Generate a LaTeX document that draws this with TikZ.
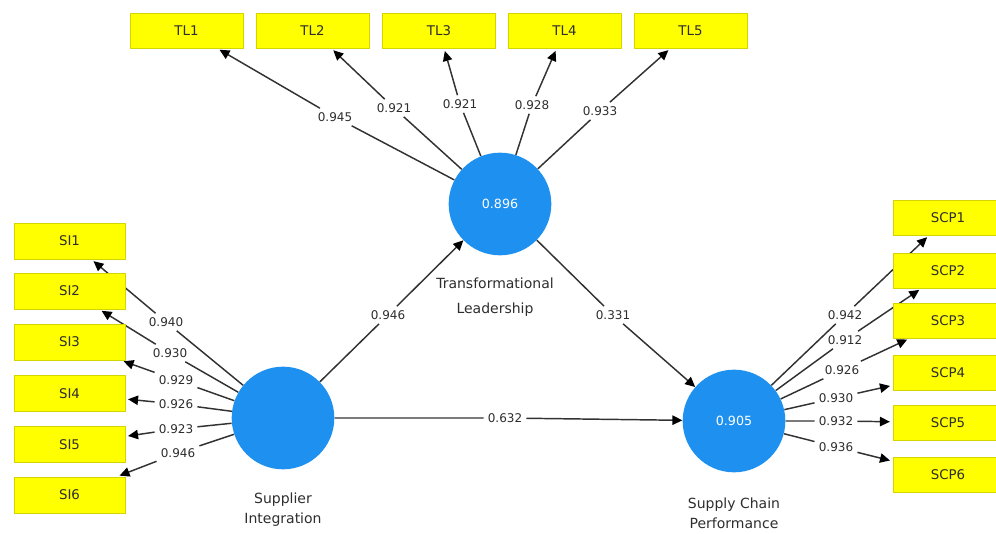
\documentclass[tikz,border=0pt]{standalone}
\usepackage{fontspec}
\setmainfont{DejaVu Sans}
\usetikzlibrary{arrows.meta}
\pgfdeclarelayer{bg}
\pgfsetlayers{bg,main}
\definecolor{boxyellow}{RGB}{255,255,0}
\definecolor{boxedge}{RGB}{212,212,0}
\definecolor{lvblue}{RGB}{30,144,240}
\definecolor{inkgray}{RGB}{45,45,45}
\definecolor{linegray}{RGB}{50,50,50}
\tikzset{
  indbox/.style={draw=boxedge, fill=boxyellow, line width=0.6pt, minimum width=84.75pt,
    minimum height=26.25pt, inner sep=0pt, font=\fontsize{10}{12}\selectfont, text=inkgray},
  sibox/.style={indbox, minimum width=83.25pt, minimum height=27pt},
  scpbox/.style={indbox, minimum width=82.5pt, minimum height=26.25pt},
  latent/.style={circle, fill=lvblue, draw=none, minimum size=77pt, inner sep=0pt,
    text=white, font=\fontsize{9.5}{11}\selectfont},
  coef/.style={inner sep=3pt, font=\fontsize{9}{11}\selectfont, text=inkgray},
  lvname/.style={align=center, text=inkgray},
  loadline/.style={draw=linegray, line width=1.1pt, -{Triangle[length=7.5pt,width=7pt,color=black]}, shorten >=2pt},
  pathline/.style={draw=linegray, line width=1.1pt, -{Triangle[length=7.5pt,width=7pt,color=black]}}
}
\begin{document}
\begin{tikzpicture}[x=0.75pt,y=-0.75pt]
\useasboundingbox (0,0) rectangle (996,534);

% latent variables
\node[latent] (SI) at (283,418) {};
\node[latent] (TL) at (500,204) {0.896};
\node[latent] (SCP) at (734,421) {0.905};

\node[lvname, font=\fontsize{10.5}{15}\selectfont] (SIname) at (283,510) {Supplier\\Integration};
\node[lvname, font=\fontsize{10.5}{18.75}\selectfont] (TLname) at (495,297) {Transformational\\Leadership};
\node[lvname, font=\fontsize{10.5}{15}\selectfont] (SCPname) at (734,513) {Supply Chain\\Performance};

% indicators
\node[indbox] (TL1) at (186.5,30.5) {TL1};
\node[indbox] (TL2) at (312.5,30.5) {TL2};
\node[indbox] (TL3) at (439,30.5) {TL3};
\node[indbox] (TL4) at (564.5,30.5) {TL4};
\node[indbox] (TL5) at (690.5,30.5) {TL5};

\node[sibox] (SI1) at (69.5,241) {SI1};
\node[sibox] (SI2) at (69.5,291) {SI2};
\node[sibox] (SI3) at (69.5,342) {SI3};
\node[sibox] (SI4) at (69.5,393.5) {SI4};
\node[sibox] (SI5) at (69.5,444.5) {SI5};
\node[sibox] (SI6) at (69.5,495) {SI6};

\node[scpbox] (SCP1) at (948,217.5) {SCP1};
\node[scpbox] (SCP2) at (948,270.5) {SCP2};
\node[scpbox] (SCP3) at (948,320.5) {SCP3};
\node[scpbox] (SCP4) at (948,373) {SCP4};
\node[scpbox] (SCP5) at (948,422.5) {SCP5};
\node[scpbox] (SCP6) at (948,475) {SCP6};

% coefficient labels
\node[coef] (kTL1) at (335,117) {0.945};
\node[coef] (kTL2) at (394,108) {0.921};
\node[coef] (kTL3) at (460,104) {0.921};
\node[coef] (kTL4) at (532,105) {0.928};
\node[coef] (kTL5) at (600,111) {0.933};

\node[coef] (kSI1) at (166,322) {0.940};
\node[coef] (kSI2) at (170,353) {0.930};
\node[coef] (kSI3) at (176,380) {0.929};
\node[coef] (kSI4) at (176,404) {0.926};
\node[coef] (kSI5) at (176,429) {0.923};
\node[coef] (kSI6) at (178,453) {0.946};

\node[coef] (kSCP1) at (845,315) {0.942};
\node[coef] (kSCP2) at (845,340) {0.912};
\node[coef] (kSCP3) at (842,370) {0.926};
\node[coef] (kSCP4) at (836,398) {0.930};
\node[coef] (kSCP5) at (836,421) {0.932};
\node[coef] (kSCP6) at (836,447) {0.936};

\node[coef] (kSITL) at (388,315) {0.946};
\node[coef] (kTLSCP) at (613,315) {0.331};
\node[coef] (kSISCP) at (505,418) {0.632};

\begin{pgfonlayer}{bg}
\draw[loadline] (TL) -- (kTL1) -- (TL1);
\draw[loadline] (TL) -- (kTL2) -- (TL2);
\draw[loadline] (TL) -- (kTL3) -- (TL3);
\draw[loadline] (TL) -- (kTL4) -- (TL4);
\draw[loadline] (TL) -- (kTL5) -- (TL5);

\draw[loadline] (SI) -- (kSI1) -- (SI1);
\draw[loadline] (SI) -- (kSI2) -- (SI2);
\draw[loadline] (SI) -- (kSI3) -- (SI3);
\draw[loadline] (SI) -- (kSI4) -- (SI4);
\draw[loadline] (SI) -- (kSI5) -- (SI5);
\draw[loadline] (SI) -- (kSI6) -- (SI6);

\draw[loadline] (SCP) -- (kSCP1) -- (SCP1);
\draw[loadline] (SCP) -- (kSCP2) -- (SCP2);
\draw[loadline] (SCP) -- (kSCP3) -- (SCP3);
\draw[loadline] (SCP) -- (kSCP4) -- (SCP4);
\draw[loadline] (SCP) -- (kSCP5) -- (SCP5);
\draw[loadline] (SCP) -- (kSCP6) -- (SCP6);

\draw[pathline] (SI) -- (kSITL) -- (TL);
\draw[pathline] (TL) -- (kTLSCP) -- (SCP);
\draw[pathline] (SI) -- (kSISCP) -- (SCP);
\end{pgfonlayer}
\end{tikzpicture}
\end{document}
